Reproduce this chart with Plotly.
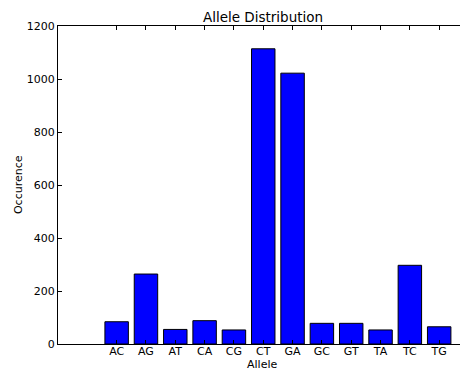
import plotly.graph_objects as go

alleles = ["AC", "AG", "AT", "CA", "CG", "CT", "GA", "GC", "GT", "TA", "TC", "TG"]
counts = [84, 264, 55, 88, 53, 1114, 1022, 78, 78, 53, 297, 65]
y_ticks = [0, 200, 400, 600, 800, 1000, 1200]

font = "DejaVu Sans"
fs = 11

fig = go.Figure(
    go.Bar(
        x=alleles,
        y=counts,
        width=0.8,
        marker=dict(color="#0000ff", line=dict(color="black", width=1)),
    )
)

fig.update_layout(
    width=460,
    height=371,
    margin=dict(l=57.5, r=0, t=26, b=27, pad=0),
    paper_bgcolor="white",
    plot_bgcolor="white",
    showlegend=False,
    font=dict(family=font, size=fs, color="black"),
    title=dict(
        text="Allele Distribution",
        font=dict(family=font, size=13.5, color="black"),
        x=263 / 460,
        xref="container",
        xanchor="center",
        y=1 - 17 / 371,
        yref="container",
        yanchor="middle",
    ),
    annotations=[
        dict(
            text="Allele",
            xref="paper",
            yref="paper",
            x=(262 - 57.5) / 402.5,
            y=-(364 - 344) / 318,
            xanchor="center",
            yanchor="middle",
            borderpad=0,
            showarrow=False,
            font=dict(family=font, size=fs, color="black"),
        ),
        dict(
            text="Occurence",
            xref="paper",
            yref="paper",
            x=-(57.5 - 17.5) / 402.5,
            y=0.5,
            xanchor="center",
            yanchor="middle",
            textangle=-90,
            borderpad=0,
            showarrow=False,
            font=dict(family=font, size=fs, color="black"),
        ),
    ],
)

fig.update_xaxes(
    type="category",
    range=[-2, 11.71],
    showgrid=False,
    zeroline=False,
    showline=True,
    linecolor="black",
    linewidth=1,
    mirror="ticks",
    ticks="inside",
    ticklen=4,
    tickcolor="black",
    tickwidth=1,
    ticklabelstandoff=-3,
    tickfont=dict(family=font, size=fs, color="black"),
)

fig.update_yaxes(
    range=[0, 1200],
    tickvals=y_ticks,
    ticktext=[str(v) for v in y_ticks],
    showgrid=False,
    zeroline=False,
    showline=True,
    linecolor="black",
    linewidth=1,
    ticks="inside",
    ticklen=4,
    tickcolor="black",
    tickwidth=1,
    tickfont=dict(family=font, size=fs, color="black"),
)

fig.write_html(
    "out.html",
    config={"displayModeBar": False},
    post_script="document.body.style.margin='0';document.body.style.overflow='hidden';",
)
